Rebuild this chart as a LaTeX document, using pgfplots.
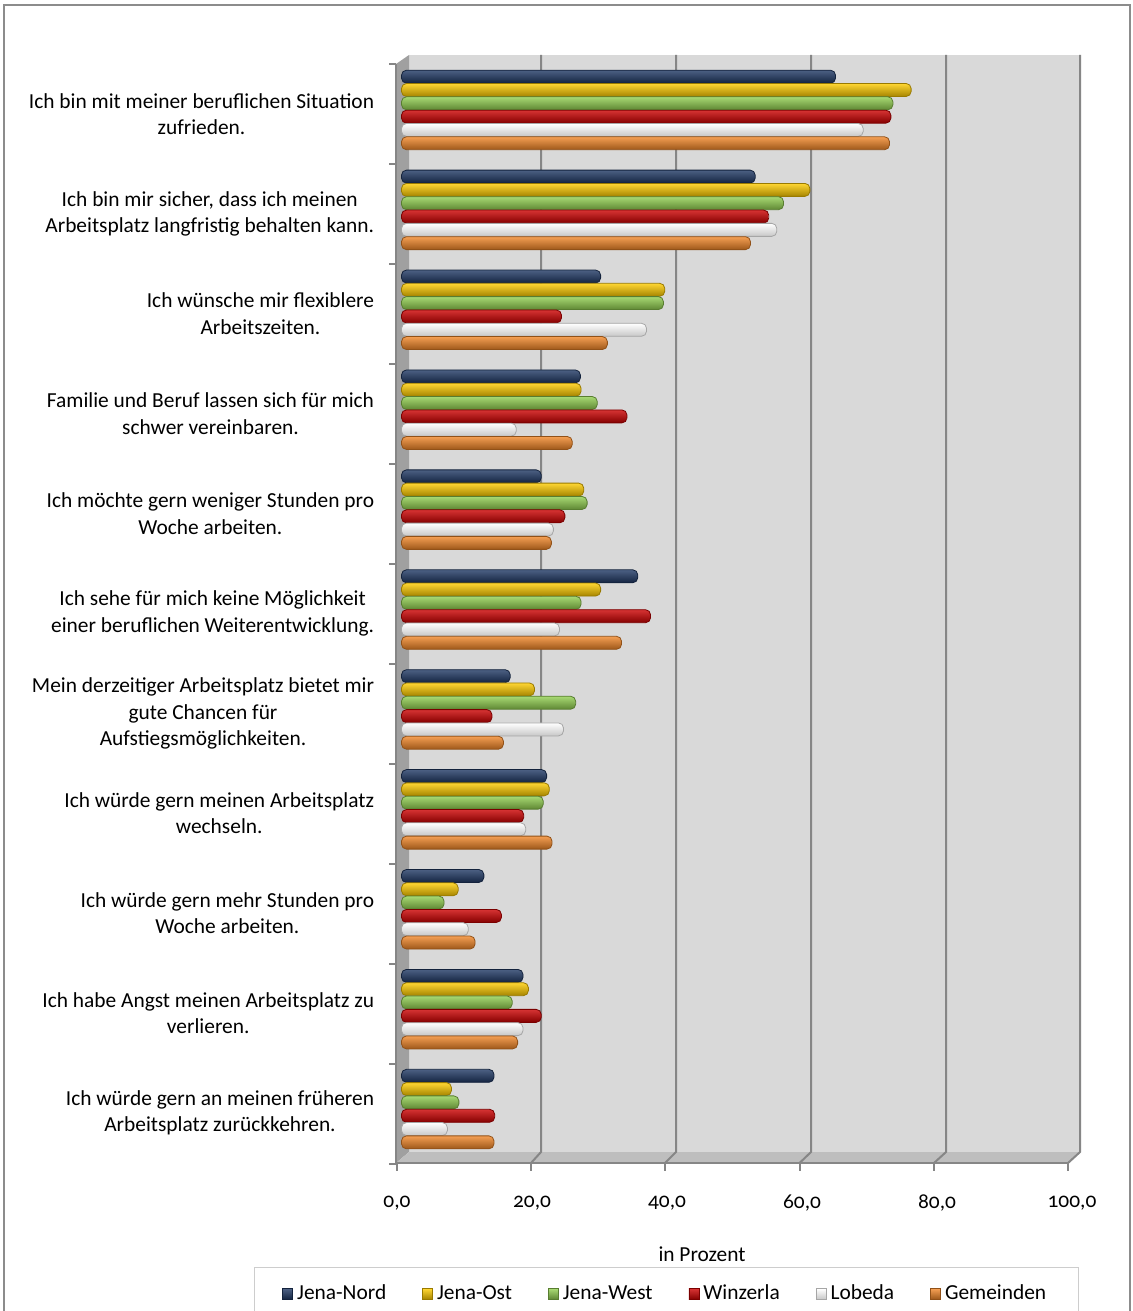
\documentclass[border=0pt]{standalone}
\usepackage{pgfplots}
\pgfplotsset{compat=1.18}
\usepackage{pgfplotstable}
\usepackage{fontspec}
\setmainfont{Carlito}[Numbers=OldStyle]

\definecolor{nord}{RGB}{31,56,100}
\definecolor{ost}{RGB}{255,204,0}
\definecolor{west}{RGB}{146,208,80}
\definecolor{winz}{RGB}{204,0,0}
\definecolor{gem}{RGB}{242,135,40}
\definecolor{wall}{RGB}{217,217,217}
\definecolor{sidewall}{RGB}{160,160,160}
\definecolor{floorc}{RGB}{190,190,190}
\definecolor{axgray}{RGB}{134,134,134}
\definecolor{framegray}{RGB}{140,140,140}
\definecolor{leggray}{RGB}{205,205,205}

\pgfplotstableread{
cat nord ost west winz lob gem
0 64.3 75.5 72.8 72.5 68.4 72.3
1 52.4 60.5 56.6 54.4 55.6 51.7
2 29.5 39.0 38.8 23.7 36.3 30.5
3 26.5 26.6 29.0 33.4 17.0 25.3
4 20.7 27.0 27.5 24.2 22.5 22.2
5 35.0 29.5 26.6 36.9 23.4 32.6
6 16.1 19.7 25.8 13.4 24.0 15.1
7 21.5 21.9 21.0 18.1 18.4 22.3
8 12.2 8.4 6.3 14.8 9.9 10.9
9 18.0 18.8 16.4 20.7 18.0 17.2
10 13.7 7.4 8.5 13.8 6.8 13.7
}\data

\pgfplotsset{
  cyl/.style={draw=#1!60!black, line width=0.4pt, top color=#1!80!white, middle color=#1, bottom color=#1!65!black, rounded corners=2.5pt},
  cylw/.style={draw=black!35, line width=0.4pt, top color=white, middle color=white, bottom color=black!22, rounded corners=2.5pt},
}

\begin{document}
\begin{tikzpicture}[font=\fontsize{10.7}{13.2}\selectfont]
\path[use as bounding box] (0pt,0pt) rectangle (566pt,-655.5pt);
\clip (0pt,0pt) rectangle (566pt,-655.5pt);
\begin{scope}[x=0.5pt,y=-0.5pt]
\fill[white] (0,0) rectangle (1132,1311);
\draw[framegray, line width=1pt] (4,1320) -- (4,5) -- (1130,5) -- (1130,1320);
\fill[wall] (409,55) rectangle (1080,1152);
\fill[sidewall] (396,64) -- (409,55) -- (409,1152) -- (396,1163) -- cycle;
\fill[floorc] (396,1163) -- (409,1152) -- (1080,1152) -- (1069,1163) -- cycle;
\foreach \xb/\xf in {541/531,676/665,811/799.5,946/934,1080/1068}{
  \draw[axgray, line width=1pt] (\xb,55) -- (\xb,1152) -- (\xf,1163);
}
\coordinate (axpos) at (397,1163);
\node[anchor=center] at (702,1254) {in Prozent};
\end{scope}
\begin{axis}[
  at={(axpos)}, anchor=south west,
  scale only axis, width=337.5pt, height=549.5pt,
  xmin=0, xmax=100, ymin=-0.5, ymax=10.5,
  y dir=reverse,
  xbar, bar width=0.13,
  axis line style={draw=none},
  tick style={draw=none},
  xtick={0,20,...,100},
  xticklabel style={anchor=center, yshift=-20pt},
  /pgf/number format/.cd, fixed, fixed zerofill, precision=1, use comma, assume math mode=true,
  /pgfplots/.cd,
  ytick={0,...,10},
  yticklabels={
    {Ich bin mit meiner beruflichen Situation\\zufrieden.},
    {Ich bin mir sicher, dass ich meinen\\Arbeitsplatz langfristig behalten kann.},
    {Ich wünsche mir flexiblere\\Arbeitszeiten.},
    {Familie und Beruf lassen sich für mich\\schwer vereinbaren.},
    {Ich möchte gern weniger Stunden pro\\Woche arbeiten.},
    {Ich sehe für mich keine Möglichkeit\\einer beruflichen Weiterentwicklung.},
    {Mein derzeitiger Arbeitsplatz bietet mir\\gute Chancen für\\Aufstiegsmöglichkeiten.},
    {Ich würde gern meinen Arbeitsplatz\\wechseln.},
    {Ich würde gern mehr Stunden pro\\Woche arbeiten.},
    {Ich habe Angst meinen Arbeitsplatz zu\\verlieren.},
    {Ich würde gern an meinen früheren\\Arbeitsplatz zurückkehren.}},
  yticklabel style={align=center, anchor=east, inner sep=0pt, xshift=-7pt},
  legend columns=6,
  legend style={at={(axis description cs:0.399,-0.1192)}, anchor=center, draw=leggray, fill=white,
    inner xsep=14pt, inner ysep=7pt,
    /tikz/every even column/.append style={column sep=16pt}},
  legend image code/.code={\path[#1,rounded corners=0pt] (0pt,-2.6pt) rectangle (5pt,2.6pt);},
]
\pgfplotsinvokeforeach{0,...,10}{
\addplot[cyl=nord, xshift=2.25pt, bar shift=-0.373, forget plot, restrict expr to domain={\coordindex}{#1:#1}] table[x=nord,y=cat]{\data};
\addplot[cyl=ost, xshift=2.25pt, bar shift=-0.240, forget plot, restrict expr to domain={\coordindex}{#1:#1}] table[x=ost,y=cat]{\data};
\addplot[cyl=west, xshift=2.25pt, bar shift=-0.107, forget plot, restrict expr to domain={\coordindex}{#1:#1}] table[x=west,y=cat]{\data};
\addplot[cyl=winz, xshift=2.25pt, bar shift=0.027, forget plot, restrict expr to domain={\coordindex}{#1:#1}] table[x=winz,y=cat]{\data};
\addplot[cylw, xshift=2.25pt, bar shift=0.160, forget plot, restrict expr to domain={\coordindex}{#1:#1}] table[x=lob,y=cat]{\data};
\addplot[cyl=gem, xshift=2.25pt, bar shift=0.293, forget plot, restrict expr to domain={\coordindex}{#1:#1}] table[x=gem,y=cat]{\data};
}
\addlegendimage{cyl=nord}\addlegendentry{Jena-Nord}
\addlegendimage{cyl=ost}\addlegendentry{Jena-Ost}
\addlegendimage{cyl=west}\addlegendentry{Jena-West}
\addlegendimage{cyl=winz}\addlegendentry{Winzerla}
\addlegendimage{cylw}\addlegendentry{Lobeda}
\addlegendimage{cyl=gem}\addlegendentry{Gemeinden}
\end{axis}
\begin{scope}[x=0.5pt,y=-0.5pt]
\draw[axgray, line width=1pt] (396,64) -- (396,1163) -- (1069,1163);
\foreach \y in {64,164,...,1164}{\draw[axgray, line width=1pt] (389,\y) -- (396,\y);}
\foreach \x in {397,531.2,665.4,799.6,933.8,1068}{\draw[axgray, line width=1pt] (\x,1163) -- (\x,1171);}
\end{scope}
\end{tikzpicture}
\end{document}
